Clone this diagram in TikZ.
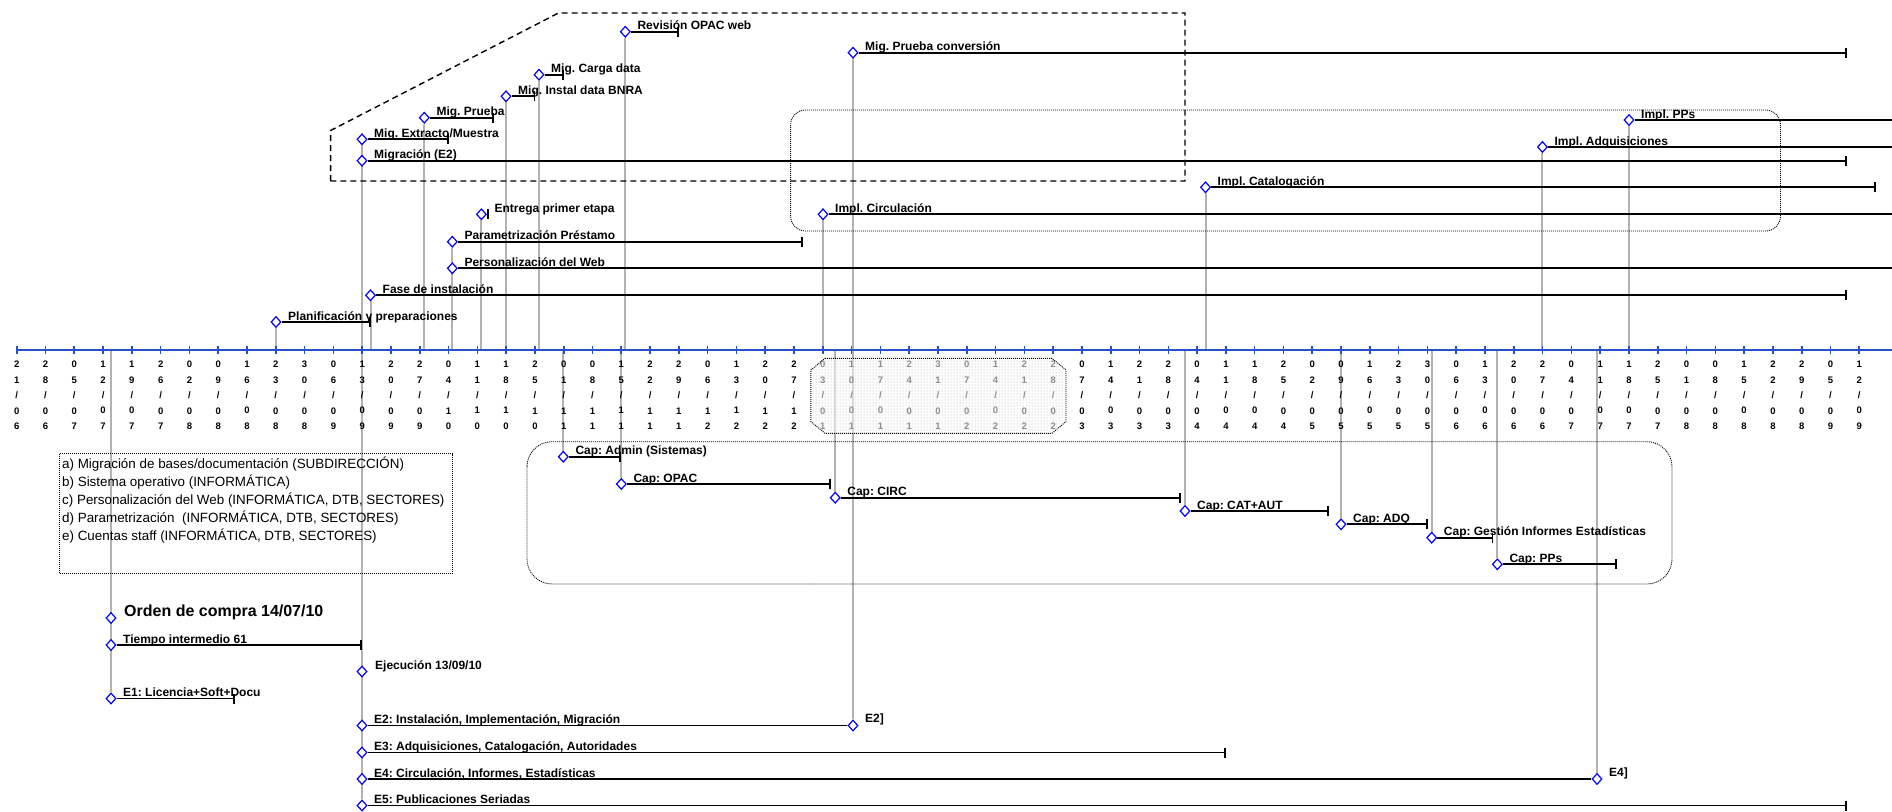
\documentclass[tikz,border=0pt]{standalone}
\usepackage{fontspec}
\setmainfont{Liberation Sans}
\usetikzlibrary{shapes.geometric,arrows.meta,backgrounds,patterns}
\definecolor{axblue}{RGB}{40,80,200}
\frenchspacing

\begin{document}
\begin{tikzpicture}[x=1pt,y=-1pt,
  ms/.style={diamond,draw=blue,fill=white,line width=1.2pt,minimum width=10pt,minimum height=11pt,inner sep=0pt},
  lbl/.style={anchor=base west,inner sep=0pt,font=\fontsize{12}{14}\selectfont\bfseries},
  leg/.style={anchor=base west,inner sep=0pt,font=\fontsize{13.4}{16}\selectfont},
  dt/.style={anchor=north,align=center,inner sep=0pt,font=\fontsize{9.5}{15.4}\selectfont\bfseries},
  bar/.style={draw=black,line width=1.8pt},
  endbar/.style={bar,-{Bar[width=10pt]}},
  conn/.style={draw=black!30,line width=2pt},
  axis/.style={draw=axblue,line width=1.6pt},
  group/.style={dash pattern=on 6pt off 4pt,line width=1.4pt},
  dotbox/.style={dash pattern=on 1pt off 1pt,line width=0.9pt}]
  \useasboundingbox (0,0) rectangle (1892,811);
  \begin{scope}[on background layer]
    \fill[white] (0,0) rectangle (1892,811);
  \end{scope}

  \coordinate (axL) at (16.7,350);
  \coordinate (axR) at (1892,350);

  \foreach \a/\b/\c/\e [count=\i from 0] in {2/1/0/6,2/8/0/6,0/5/0/7,1/2/0/7,1/9/0/7,2/6/0/7,0/2/0/8,0/9/0/8,1/6/0/8,2/3/0/8,3/0/0/8,0/6/0/9,1/3/0/9,2/0/0/9,2/7/0/9,0/4/1/0,1/1/1/0,1/8/1/0,2/5/1/0,0/1/1/1,0/8/1/1,1/5/1/1,2/2/1/1,2/9/1/1,0/6/1/2,1/3/1/2,2/0/1/2,2/7/1/2,0/3/0/1,1/0/0/1,1/7/0/1,2/4/0/1,3/1/0/1,0/7/0/2,1/4/0/2,2/1/0/2,2/8/0/2,0/7/0/3,1/4/0/3,2/1/0/3,2/8/0/3,0/4/0/4,1/1/0/4,1/8/0/4,2/5/0/4,0/2/0/5,0/9/0/5,1/6/0/5,2/3/0/5,3/0/0/5,0/6/0/6,1/3/0/6,2/0/0/6,2/7/0/6,0/4/0/7,1/1/0/7,1/8/0/7,2/5/0/7,0/1/0/8,0/8/0/8,1/5/0/8,2/2/0/8,2/9/0/8,0/5/0/9,1/2/0/9}
    \node[dt] (d\i) at (16.7+28.79*\i,361) {\a\\\b\\/\\\c\\\e};

  \draw[dotbox,fill=white,fill opacity=0.55] (825,358.3) -- (1052,358.3) -- (1066,370) -- (1066,421.6)
    -- (1052,433.3) -- (825,433.3) -- (810.8,421.6) -- (810.8,370) -- cycle;
  \fill[pattern=dots,pattern color=black!35] (825,358.3) -- (1052,358.3) -- (1066,370) -- (1066,421.6)
    -- (1052,433.3) -- (825,433.3) -- (810.8,421.6) -- (810.8,370) -- cycle;

  \draw[group] (330.6,181) -- (330.6,130.5) -- (558.5,13) -- (1185,13) -- (1185,181) -- cycle;
  \draw[dotbox,rounded corners=15pt] (790.6,110) rectangle (1780.5,231);
  \draw[dotbox,rounded corners=25pt] (527,441.7) rectangle (1672,584);
  \draw[dotbox] (59,453.7) rectangle (452.5,573);

  \node[leg] (leg1) at (62,468) {a) Migración de bases/documentación (SUBDIRECCIÓN)};
  \node[leg] (leg2) at (62,486.1) {b) Sistema operativo (INFORMÁTICA)};
  \node[leg] (leg3) at (62,504.2) {c) Personalización del Web (INFORMÁTICA, DTB, SECTORES)};
  \node[leg] (leg4) at (62,522.3) {d) Parametrización~ (INFORMÁTICA, DTB, SECTORES)};
  \node[leg] (leg5) at (62,540.4) {e) Cuentas staff (INFORMÁTICA, DTB, SECTORES)};

  \node[ms] (revop) at (625.3,31.7) {};
  \node[lbl] (revop-t) at ([xshift=12pt,yshift=2pt]revop) {Revisión OPAC web};
  \coordinate (revop-e) at (679,31.7);
  \node[ms] (mconv) at (853,52.7) {};
  \node[lbl] (mconv-t) at ([xshift=12pt,yshift=2pt]mconv) {Mig. Prueba conversión};
  \coordinate (mconv-e) at (1847,52.7);
  \node[ms] (mcar) at (539,74.7) {};
  \node[lbl] (mcar-t) at ([xshift=12pt,yshift=2pt]mcar) {Mig. Carga data};
  \coordinate (mcar-e) at (563.7,74.7);
  \node[ms] (mins) at (506,96.3) {};
  \node[lbl] (mins-t) at ([xshift=12pt,yshift=2pt]mins) {Mig. Instal data BNRA};
  \coordinate (mins-e) at (535.3,96.3);
  \node[ms] (mpru) at (424.3,117.7) {};
  \node[lbl] (mpru-t) at ([xshift=12pt,yshift=2pt]mpru) {Mig. Prueba};
  \coordinate (mpru-e) at (494,117.7);
  \node[ms] (mext) at (362,139.3) {};
  \node[lbl] (mext-t) at ([xshift=12pt,yshift=2pt]mext) {Mig. Extracto/Muestra};
  \coordinate (mext-e) at (448.7,139.3);
  \node[ms] (migr) at (362,160.7) {};
  \node[lbl] (migr-t) at ([xshift=12pt,yshift=2pt]migr) {Migración (E2)};
  \coordinate (migr-e) at (1847,160.7);

  \node[ms] (ipps) at (1629,120) {};
  \node[lbl] (ipps-t) at ([xshift=12pt,yshift=2pt]ipps) {Impl. PPs};
  \coordinate (ipps-e) at (1892,120);
  \node[ms] (iadq) at (1542.4,147) {};
  \node[lbl] (iadq-t) at ([xshift=12pt,yshift=2pt]iadq) {Impl. Adquisiciones};
  \coordinate (iadq-e) at (1892,147);
  \node[ms] (icat) at (1205.5,187.3) {};
  \node[lbl] (icat-t) at ([xshift=12pt,yshift=2pt]icat) {Impl. Catalogación};
  \coordinate (icat-e) at (1876,187.3);
  \node[ms] (icirc) at (823,214.3) {};
  \node[lbl] (icirc-t) at ([xshift=12pt,yshift=2pt]icirc) {Impl. Circulación};
  \coordinate (icirc-e) at (1892,214.3);

  \node[ms] (entr) at (481.4,214.3) {};
  \node[lbl] (entr-t) at ([xshift=13pt,yshift=2pt]entr) {Entrega primer etapa};
  \coordinate (entr-e) at (487,214.3);
  \node[ms] (param) at (452.3,241.7) {};
  \node[lbl] (param-t) at ([xshift=12pt,yshift=2pt]param) {Parametrización Préstamo};
  \coordinate (param-e) at (803,241.7);
  \node[ms] (perso) at (452.3,268.3) {};
  \node[lbl] (perso-t) at ([xshift=12pt,yshift=2pt]perso) {Personalización del Web};
  \coordinate (perso-e) at (1892,268.3);
  \node[ms] (fase) at (370.5,295.3) {};
  \node[lbl] (fase-t) at ([xshift=12pt,yshift=2pt]fase) {Fase de instalación};
  \coordinate (fase-e) at (1847,295.3);
  \node[ms] (planif) at (276,322) {};
  \node[lbl] (planif-t) at ([xshift=12pt,yshift=2pt]planif) {Planificación y preparaciones};
  \coordinate (planif-e) at (370.7,322);

  \node[ms] (cadm) at (563.3,456.7) {};
  \node[lbl] (cadm-t) at ([xshift=12pt,yshift=2pt]cadm) {Cap: Admin (Sistemas)};
  \coordinate (cadm-e) at (621,456.7);
  \node[ms] (copac) at (621.3,484) {};
  \node[lbl] (copac-t) at ([xshift=12pt,yshift=2pt]copac) {Cap: OPAC};
  \coordinate (copac-e) at (831.2,484);
  \node[ms] (ccirc) at (835.2,497.7) {};
  \node[lbl] (ccirc-t) at ([xshift=12pt,yshift=2pt]ccirc) {Cap: CIRC};
  \coordinate (ccirc-e) at (1180.7,497.7);
  \node[ms] (ccat) at (1185,511) {};
  \node[lbl] (ccat-t) at ([xshift=12pt,yshift=2pt]ccat) {Cap: CAT+AUT};
  \coordinate (ccat-e) at (1329,511);
  \node[ms] (cadq) at (1341,524.3) {};
  \node[lbl] (cadq-t) at ([xshift=12pt,yshift=2pt]cadq) {Cap: ADQ};
  \coordinate (cadq-e) at (1427.7,524.3);
  \node[ms] (cgest) at (1431.7,537.7) {};
  \node[lbl] (cgest-t) at ([xshift=12pt,yshift=2pt]cgest) {Cap: Gestión Informes Estadísticas};
  \coordinate (cgest-e) at (1493.3,537.7);
  \node[ms] (cpps) at (1497.3,564.3) {};
  \node[lbl] (cpps-t) at ([xshift=12pt,yshift=2pt]cpps) {Cap: PPs};
  \coordinate (cpps-e) at (1616.7,564.3);

  \node[ms] (orden) at (111,618) {};
  \node[lbl,font=\fontsize{16}{18}\selectfont\bfseries] (orden-t) at ([xshift=13pt,yshift=2pt]orden) {Orden de compra 14/07/10};
  \node[ms] (tiempo) at (111,645) {};
  \node[lbl] (tiempo-t) at ([xshift=12pt,yshift=2pt]tiempo) {Tiempo intermedio 61};
  \coordinate (tiempo-e) at (362,645);
  \node[ms] (ejec) at (362,671.5) {};
  \node[lbl] (ejec-t) at ([xshift=13pt,yshift=2pt]ejec) {Ejecución 13/09/10};
  \node[ms] (e1) at (111,698.5) {};
  \node[lbl] (e1-t) at ([xshift=12pt,yshift=2pt]e1) {E1: Licencia+Soft+Docu};
  \coordinate (e1-e) at (235,698.5);
  \node[ms] (e2) at (362,725.5) {};
  \node[lbl] (e2-t) at ([xshift=12pt,yshift=2pt]e2) {E2: Instalación, Implementación, Migración};
  \node[ms] (e2end) at (853,725.5) {};
  \node[lbl] (e2end-t) at ([xshift=12pt,yshift=3pt]e2end) {E2]};
  \node[ms] (e3) at (362,752.5) {};
  \node[lbl] (e3-t) at ([xshift=12pt,yshift=2pt]e3) {E3: Adquisiciones, Catalogación, Autoridades};
  \coordinate (e3-e) at (1226,752.5);
  \node[ms] (e4) at (362,779) {};
  \node[lbl] (e4-t) at ([xshift=12pt,yshift=2pt]e4) {E4: Circulación, Informes, Estadísticas};
  \node[ms] (e4end) at (1597,779) {};
  \node[lbl] (e4end-t) at ([xshift=12pt,yshift=3pt]e4end) {E4]};
  \node[ms] (e5) at (362,805.5) {};
  \node[lbl] (e5-t) at ([xshift=12pt,yshift=2pt]e5) {E5: Publicaciones Seriadas};
  \coordinate (e5-e) at (1847,805.5);

  \begin{scope}[on background layer]
    \draw[conn] (orden |- axL) -- (e1);
    \draw[conn] (mext) -- (e5);
    \draw[conn] (mconv) -- (e2end);
    \draw[conn] (e4end |- axL) -- (e4end);
    \foreach \n in {revop,mcar,mins,mpru,ipps,iadq,icat,icirc,entr,param,fase,planif}
      \draw[conn] (\n) -- (\n |- axL);
    \foreach \n in {cadm,copac,ccirc,ccat,cadq,cgest,cpps}
      \draw[conn] (\n |- axL) -- (\n);
    \draw[axis] (axL) -- (axR);
    \foreach \i in {0,...,64}
      \draw[axis] (16.7+28.79*\i,346) -- ++(0,8);
    \foreach \n in {revop,mconv,mcar,mins,mpru,mext,migr,icat,entr,param,fase,planif,cadm,copac,ccirc,ccat,cadq,cgest,cpps,tiempo,e1,e3,e5}
      \draw[endbar] (\n) -- (\n-e);
    \foreach \n in {ipps,iadq,icirc,perso}
      \draw[bar] (\n) -- (\n-e);
    \draw[bar] (e2) -- (e2end);
    \draw[bar] (e4) -- (e4end);
  \end{scope}
\end{tikzpicture}
\end{document}
